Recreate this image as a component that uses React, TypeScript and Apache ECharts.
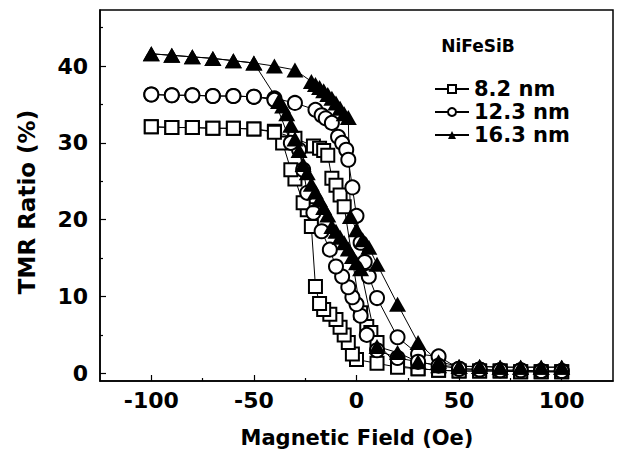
import React, { useEffect, useRef } from "react";
import * as echarts from "echarts";

// ---- data ----
const seriesNames = ["8.2 nm", "12.3 nm", "16.3 nm"];
const legendTitle = "NiFeSiB";
const xTitle = "Magnetic Field (Oe)";
const yTitle = "TMR Ratio (%)";
const xMajor = [-100, -50, 0, 50, 100];
const xMinor = [-75, -25, 25, 75];
const yMajor = [0, 10, 20, 30, 40];
const yMinor = [5, 15, 25, 35, 45];

// 8.2 nm (squares): sweep -100 -> +100
const sqFwdX = [-100, -90, -80, -70, -60, -50, -40, -30, -21, -18, -16, -14, -12, -10, -8, -6, 2, 5, 7, 10, 20, 30, 40, 50, 60, 70, 80, 90, 100];
const sqFwdY = [32.1, 32.0, 32.0, 31.9, 31.9, 31.8, 31.5, 30.6, 29.6, 29.3, 29.0, 28.4, 25.4, 24.5, 23.2, 21.7, 7.9, 6.1, 5.3, 4.0, 1.0, 0.6, 0.4, 0.3, 0.3, 0.3, 0.2, 0.2, 0.2];
// 8.2 nm: sweep +100 -> -100
const sqBwdX = [100, 90, 80, 70, 60, 50, 40, 30, 20, 10, 0, -2, -4, -6, -8, -10, -13, -16, -18, -20, -22, -24, -26, -30, -32, -36, -40, -50, -60, -70, -80, -90, -100];
const sqBwdY = [0.2, 0.2, 0.2, 0.3, 0.3, 0.3, 0.4, 0.6, 0.8, 1.3, 1.8, 2.5, 4.0, 5.0, 6.0, 7.0, 7.7, 8.3, 9.1, 11.3, 19.1, 21.3, 22.2, 25.3, 26.5, 30.0, 31.4, 31.8, 31.9, 31.9, 32.0, 32.0, 32.1];

// 12.3 nm (circles)
const ciFwdX = [-100, -90, -80, -70, -60, -50, -40, -30, -20, -17, -15, -12, -9, -7, -5, -4, -2, 0, 2, 4, 6, 10, 20, 30, 40, 50, 60, 70, 80, 90, 100];
const ciFwdY = [36.3, 36.2, 36.2, 36.1, 36.1, 36.0, 35.8, 35.2, 34.3, 33.6, 33.2, 32.6, 30.8, 30.0, 29.1, 27.8, 24.2, 20.5, 17.0, 14.5, 12.6, 9.8, 4.7, 2.5, 2.2, 0.6, 0.5, 0.4, 0.4, 0.3, 0.3];
const ciBwdX = [100, 90, 80, 70, 60, 50, 40, 30, 20, 10, 5, 2, 0, -2, -4, -7, -10, -13, -17, -21, -24, -26, -28, -32, -40, -50, -60, -70, -80, -90, -100];
const ciBwdY = [0.3, 0.3, 0.4, 0.4, 0.5, 0.6, 1.0, 1.5, 2.0, 3.0, 5.0, 7.5, 9.0, 9.9, 11.2, 12.6, 13.9, 16.1, 18.5, 20.9, 23.5, 26.5, 29.1, 30.0, 35.6, 36.0, 36.1, 36.1, 36.2, 36.2, 36.3];

// 16.3 nm (filled triangles)
const trFwdX = [-100, -90, -80, -70, -60, -50, -40, -30, -22, -20, -18, -16, -14, -12, -10, -8, -6, -4, -3, 0, 3, 6, 10, 20, 30, 40, 50, 60, 70, 80, 90, 100];
const trFwdY = [41.6, 41.4, 41.2, 41.0, 40.7, 40.4, 40.0, 39.5, 38.0, 37.6, 37.2, 36.8, 36.3, 35.8, 35.2, 34.5, 33.8, 33.3, 20.4, 18.7, 17.4, 16.4, 14.2, 9.0, 4.0, 1.5, 0.9, 0.9, 0.8, 0.8, 0.8, 0.8];
const trBwdX = [100, 90, 80, 70, 60, 50, 40, 30, 20, 10, 2, 0, -2, -4, -6, -8, -10, -12, -14, -16, -18, -20, -22, -24, -26, -28, -30, -32, -34, -36, -38, -50, -60, -70, -80, -90, -100];
const trBwdY = [0.8, 0.8, 0.8, 0.8, 0.9, 0.9, 1.0, 1.5, 2.7, 3.5, 13.6, 14.4, 15.2, 16.2, 17.0, 17.7, 18.5, 19.1, 20.6, 21.6, 22.6, 23.6, 24.6, 26.1, 27.2, 29.0, 30.5, 32.3, 33.8, 34.8, 35.4, 40.4, 40.7, 41.0, 41.2, 41.4, 41.6];

function pairs(xs: number[], ys: number[]) {
  return xs.map((x, i) => [x, ys[i]]);
}

export default function App() {
  const ref = useRef<HTMLDivElement>(null);
  useEffect(() => {
    if (!ref.current) return;
    const chart = echarts.init(ref.current, null, { renderer: "svg" });
    const FONT = "'DejaVu Sans', sans-serif";
    const black = "#000";
    const tickFont = { color: black, fontSize: 22, fontWeight: "bold", fontFamily: FONT };

    const mkX = (major: boolean) => ({
      type: "value",
      min: -125,
      max: 125,
      position: "bottom",
      axisLine: { show: major, onZero: false, lineStyle: { color: black, width: 1.5 } },
      axisTick: {
        show: true,
        inside: true,
        length: major ? 6 : 3,
        customValues: major ? xMajor : xMinor,
        lineStyle: { color: black, width: 1.2 },
      },
      axisLabel: major
        ? { show: true, customValues: xMajor, margin: 8, ...tickFont }
        : { show: false },
      splitLine: { show: false },
    });
    const mkY = (major: boolean) => ({
      type: "value",
      min: -1,
      max: 47.3,
      position: "left",
      axisLine: { show: major, onZero: false, lineStyle: { color: black, width: 1.5 } },
      axisTick: {
        show: true,
        inside: true,
        length: major ? 6 : 3,
        customValues: major ? yMajor : yMinor,
        lineStyle: { color: black, width: 1.2 },
      },
      axisLabel: major
        ? { show: true, customValues: yMajor, margin: 12, ...tickFont }
        : { show: false },
      splitLine: { show: false },
    });

    const common = {
      type: "line",
      xAxisIndex: 0,
      yAxisIndex: 0,
      lineStyle: { color: black, width: 1 },
      emphasis: { disabled: true },
    };

    chart.setOption({
      animation: false,
      backgroundColor: "#fff",
      grid: { left: 100, right: 5, top: 10, bottom: 89, show: true, borderColor: black, borderWidth: 1.5 },
      xAxis: [mkX(true), mkX(false)],
      yAxis: [mkY(true), mkY(false)],
      legend: {
        orient: "vertical",
        left: 429,
        top: 73,
        itemWidth: 34,
        itemHeight: 10,
        itemGap: 1,
        textStyle: { color: black, fontSize: 21, fontWeight: "bold", fontFamily: FONT, lineHeight: 22 },
        data: seriesNames,
      },
      graphic: [
        {
          type: "text",
          x: 478,
          y: 46,
          style: { text: legendTitle, font: `bold 17px ${FONT}`, fill: black, align: "center", verticalAlign: "middle" },
        },
        {
          type: "text",
          x: 357,
          y: 438,
          style: { text: xTitle, font: `bold 21px ${FONT}`, fill: black, align: "center", verticalAlign: "middle" },
        },
        {
          type: "text",
          x: 27,
          y: 202,
          rotation: Math.PI / 2,
          style: { text: yTitle, font: `bold 23px ${FONT}`, fill: black, align: "center", verticalAlign: "middle" },
        },
      ],
      series: [
        {
          ...common,
          name: seriesNames[0],
          data: [...pairs(sqFwdX, sqFwdY), ...pairs(sqBwdX, sqBwdY)],
          symbol: "emptyRect",
          symbolSize: 13,
          itemStyle: { color: black, borderColor: black, borderWidth: 1.3 },
        },
        {
          ...common,
          name: seriesNames[1],
          data: [...pairs(ciFwdX, ciFwdY), ...pairs(ciBwdX, ciBwdY)],
          symbol: "emptyCircle",
          symbolSize: 14,
          itemStyle: { color: black, borderColor: black, borderWidth: 1.3 },
        },
        {
          ...common,
          name: seriesNames[2],
          data: [...pairs(trFwdX, trFwdY), ...pairs(trBwdX, trBwdY)],
          symbol: "triangle",
          symbolSize: [17, 15],
          itemStyle: { color: black, borderColor: black, borderWidth: 0 },
        },
      ],
    });
    return () => chart.dispose();
  }, []);
  return <div ref={ref} style={{ position: "fixed", left: 0, top: 0, width: 618, height: 470 }} />;
}
